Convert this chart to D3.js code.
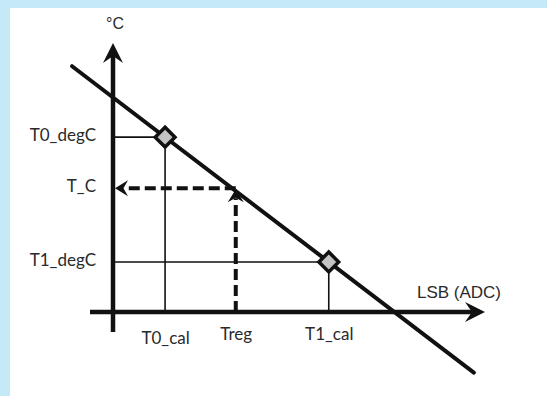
<!DOCTYPE html>
<html>
<head>
<meta charset="utf-8">
<script src="https://cdn.jsdelivr.net/npm/d3@7"></script>
<style>
  body { margin: 0; background: #c6e9f8; }
  svg { display: block; }
  .lbl text { font-family: Lato, "Open Sans", sans-serif; font-size: 17px; fill: #2a2a2a; }
</style>
</head>
<body>
<svg width="547" height="396"></svg>
<script>
var width = 547, height = 396

// calibration points (x in LSB, y in degC) - arbitrary units
var calNames = ['T0_cal', 'T1_cal']
var calLsb = [14, 58]
var degNames = ['T0_degC', 'T1_degC']
var calDeg = [65, 18.6]
// measured reading
var regName = 'Treg', regLsb = 33
var tcName = 'T_C', tcDeg = 46
// extent of the drawn transfer line
var lineLsb = [-11, 97]

var x = d3.scaleLinear().domain([0, 100]).range([113, 485])
var y = d3.scaleLinear().domain([0, 100]).range([312, 43])

var svg = d3.select('svg')
svg.append('rect').attr('x', 10).attr('y', 8).attr('width', width - 10).attr('height', height - 8).attr('fill', '#fff')

var slope = (calDeg[1] - calDeg[0]) / (calLsb[1] - calLsb[0])
function lineY(v) { return calDeg[0] + slope * (v - calLsb[0]) }

// thin guide lines
var g = svg.append('g').attr('stroke', '#111').attr('stroke-width', 1.6)
for (let i = 0; i < 2; i++) {
  g.append('line').attr('x1', x(0)).attr('x2', x(calLsb[i])).attr('y1', y(calDeg[i])).attr('y2', y(calDeg[i]))
  g.append('line').attr('x1', x(calLsb[i])).attr('x2', x(calLsb[i])).attr('y1', y(calDeg[i])).attr('y2', y(0))
}

// dashed reading
svg.append('line').attr('x1', x(regLsb)).attr('x2', x(regLsb)).attr('y1', y(0)).attr('y2', y(tcDeg) + 10)
  .attr('stroke', '#111').attr('stroke-width', 4).attr('stroke-dasharray', '11,5')
svg.append('line').attr('x1', x(regLsb)).attr('x2', x(0) + 12).attr('y1', y(tcDeg)).attr('y2', y(tcDeg))
  .attr('stroke', '#111').attr('stroke-width', 4).attr('stroke-dasharray', '11,5')

function arrow(tx, ty, ang, len, half) {
  // barbed arrow head pointing along ang (radians)
  var c = Math.cos(ang), s = Math.sin(ang)
  function p(a, b) { return [tx - a * c - b * -s, ty - a * s - b * c] }
  var pts = [[0, 0], [len, half], [len * 0.65, 0], [len, -half]].map(function(d) { return p(d[0], d[1]) })
  svg.append('path').attr('d', 'M' + pts.join('L') + 'Z').attr('fill', '#111')
}
arrow(x(regLsb), y(tcDeg) + 1, -Math.PI / 2, 13, 8)
arrow(x(0) + 2, y(tcDeg), Math.PI, 13, 8)

// axes
svg.append('line').attr('x1', 90).attr('x2', x(100) - 8).attr('y1', y(0)).attr('y2', y(0)).attr('stroke', '#111').attr('stroke-width', 4.5)
svg.append('line').attr('x1', x(0)).attr('x2', x(0)).attr('y1', 332).attr('y2', y(100) + 8).attr('stroke', '#111').attr('stroke-width', 4.5)
arrow(x(100), y(0), 0, 20, 10)
arrow(x(0), y(100), -Math.PI / 2, 20, 10)

// transfer line
svg.append('line')
  .attr('x1', x(lineLsb[0])).attr('y1', y(lineY(lineLsb[0])))
  .attr('x2', x(lineLsb[1])).attr('y2', y(lineY(lineLsb[1])))
  .attr('stroke', '#111').attr('stroke-width', 4).attr('stroke-linecap', 'round')

// calibration markers
svg.selectAll('.mk').data(calLsb).join('rect').attr('class', 'mk')
  .attr('x', -7).attr('y', -7).attr('width', 14).attr('height', 14)
  .attr('transform', function(d, i) { return 'translate(' + x(d) + ',' + y(calDeg[i]) + ') rotate(45)' })
  .attr('fill', '#c4c4c4').attr('stroke', '#111').attr('stroke-width', 3.5)

// labels via axes
var xl = svg.append('g').attr('class', 'lbl').attr('transform', 'translate(0,' + (y(0) + 15) + ')')
  .call(d3.axisBottom(x).tickValues([calLsb[0], regLsb, calLsb[1]]).tickSize(0)
    .tickFormat(function(d, i) { return [calNames[0], regName, calNames[1]][i] }))
xl.select('.domain').remove()
xl.selectAll('text').attr('dy', function(d, i) { return i == 0 ? '0.85em' : '0.6em' })

var yl = svg.append('g').attr('class', 'lbl').attr('transform', 'translate(' + (x(0) - 14) + ',0)')
  .call(d3.axisLeft(y).tickValues([calDeg[0], tcDeg, calDeg[1]]).tickSize(0)
    .tickFormat(function(d, i) { return [degNames[0], tcName, degNames[1]][i] }))
yl.select('.domain').remove()
yl.selectAll('text').attr('dy', '0.2em')

svg.append('text').attr('x', x(0) + 2).attr('y', 29).attr('text-anchor', 'middle')
  .style('font-family', '"Liberation Sans", Arial, sans-serif').style('font-size', '16px').attr('fill', '#2a2a2a').text('°C')
svg.append('text').attr('x', 459).attr('y', 298).attr('text-anchor', 'middle')
  .style('font-family', '"Liberation Sans", Arial, sans-serif').style('font-size', '17px').attr('fill', '#2a2a2a').text('LSB (ADC)')
</script>
</body>
</html>
